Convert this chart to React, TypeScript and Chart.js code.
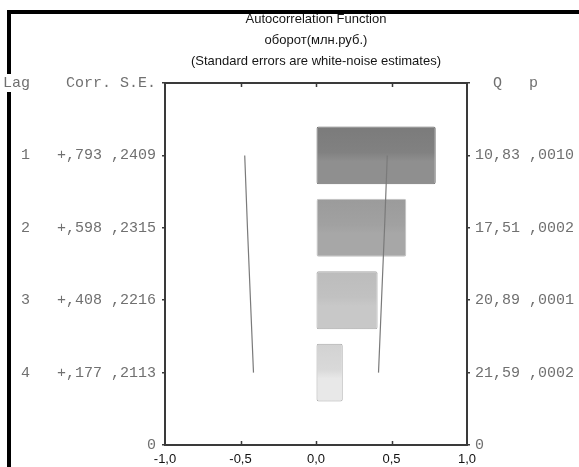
import React, { useEffect, useRef } from 'react';
import { Chart, registerables } from 'chart.js';

Chart.register(...registerables);

// ---- data ----
const lags = [1, 2, 3, 4];
const corr = [0.793, 0.598, 0.408, 0.177];
const stdErr = [0.2409, 0.2315, 0.2216, 0.2113];
const qStat = [10.83, 17.51, 20.89, 21.59];
const pValue = [0.001, 0.0002, 0.0001, 0.0002];
const confLimit = [0.472, 0.454, 0.434, 0.414];

const titleText = 'Autocorrelation Function';
const subtitleLines = ['оборот(млн.руб.)', '(Standard errors are white-noise estimates)'];
const leftHeader = 'Lag    Corr. S.E.';
const rightHeader = '  Q   p';

// ---- styles ----
const barTop = ['#7b7b7b', '#9b9b9b', '#bcbcbc', '#d2d2d2'];
const barMid = ['#818181', '#a1a1a1', '#c1c1c1', '#d9d9d9'];
const barBottom = ['#8f8f8f', '#a7a7a7', '#c8c8c8', '#e8e8e8'];
const barBorder = ['#6e6e6e', '#c2c2c2', '#a8a8a8', '#a8a8a8'];
const axisColor = '#3a3a3a';
const monoFont = "'Liberation Mono', 'DejaVu Sans Mono', monospace";
const sansFont = "'Liberation Sans', Arial, sans-serif";

const yMax = lags.length + 1;
const pos = (lag: number) => yMax - lag;

const frac = (v: number, d: number) => Math.abs(v).toFixed(d).replace(/^0/, '').replace('.', ',');
const signed = (v: number, d: number) => (v >= 0 ? '+' : '-') + frac(v, d);

const leftLabel = (value: number): string => {
  if (value === 0) return '0';
  if (value === yMax) return leftHeader;
  const i = lags.indexOf(yMax - value);
  if (i < 0) return '';
  return `${lags[i]}   ${signed(corr[i], 3)} ${frac(stdErr[i], 4)}`;
};

const rightLabel = (value: number): string => {
  if (value === 0) return '0';
  if (value === yMax) return rightHeader;
  const i = lags.indexOf(yMax - value);
  if (i < 0) return '';
  return `${qStat[i].toFixed(2).replace('.', ',')} ${frac(pValue[i], 4)}`;
};

const framePlugin = {
  id: 'acfFrame',
  afterDraw(chart: any) {
    const { ctx, chartArea: a, scales } = chart;
    ctx.save();
    ctx.strokeStyle = axisColor;
    ctx.lineWidth = 2;
    ctx.beginPath();
    ctx.moveTo(a.left - 1, a.top);
    ctx.lineTo(a.right + 1, a.top);
    ctx.stroke();
    ctx.lineWidth = 1.5;
    const ticks = scales.x.ticks;
    for (let k = 1; k < ticks.length - 1; k++) {
      const px = Math.round(scales.x.getPixelForValue(ticks[k].value)) + 0.5;
      ctx.beginPath();
      ctx.moveTo(px, a.top);
      ctx.lineTo(px, a.top + 4);
      ctx.moveTo(px, a.bottom);
      ctx.lineTo(px, a.bottom - 4);
      ctx.stroke();
    }
    ctx.restore();
  },
};

export default function App() {
  const ref = useRef<HTMLCanvasElement | null>(null);

  useEffect(() => {
    document.body.style.margin = '0';
    if (!ref.current) return;

    const barBg = (c: any) => {
      const i = c.dataIndex;
      const chart = c.chart;
      const ys = chart.scales && chart.scales.y;
      if (i === undefined || !ys) return barMid[0];
      const center = ys.getPixelForValue(pos(lags[i]));
      const half = Math.abs(ys.getPixelForValue(0) - ys.getPixelForValue(1)) * 0.4;
      if (!Number.isFinite(center) || !Number.isFinite(half) || half <= 0) return barMid[i];
      const g = chart.ctx.createLinearGradient(0, center - half, 0, center + half);
      g.addColorStop(0, barTop[i]);
      g.addColorStop(0.45, barMid[i]);
      g.addColorStop(0.6, barBottom[i]);
      g.addColorStop(1, barBottom[i]);
      return g;
    };

    const yTickFont = { family: monoFont, size: 15 };
    const yGrid = {
      drawOnChartArea: false,
      drawTicks: true,
      tickLength: 3,
      color: axisColor,
      lineWidth: 1.5,
      offset: false,
    };

    const chart = new Chart(ref.current, {
      type: 'bar',
      data: {
        datasets: [
          {
            type: 'line',
            data: lags.map((l, i) => ({ x: -confLimit[i], y: pos(l) })),
            borderColor: '#7a7a7a',
            borderWidth: 1.2,
            pointRadius: 0,
            tension: 0,
            order: 1,
          } as any,
          {
            type: 'line',
            data: lags.map((l, i) => ({ x: confLimit[i], y: pos(l) })),
            borderColor: '#7a7a7a',
            borderWidth: 1.2,
            pointRadius: 0,
            tension: 0,
            order: 1,
          } as any,
          {
            type: 'bar',
            data: lags.map((l, i) => ({ x: corr[i], y: pos(l) })),
            backgroundColor: barBg,
            borderColor: barBorder,
            borderWidth: 1,
            borderRadius: 2,
            borderSkipped: false,
            barPercentage: 0.8,
            categoryPercentage: 1,
            order: 2,
          } as any,
        ],
      },
      options: {
        animation: false,
        responsive: false,
        indexAxis: 'y',
        layout: { padding: 0 },
        plugins: {
          legend: { display: false },
          tooltip: { enabled: false },
          title: {
            display: true,
            text: titleText,
            fullSize: false,
            color: '#151515',
            font: { family: sansFont, size: 13, weight: 'normal', lineHeight: '21px' },
            padding: { top: 9, bottom: 0 },
          },
          subtitle: {
            display: true,
            text: subtitleLines,
            fullSize: false,
            color: '#151515',
            font: { family: sansFont, size: 13, weight: 'normal', lineHeight: '21px' },
            padding: { top: 0, bottom: 11 },
          },
        },
        scales: {
          x: {
            type: 'linear',
            position: 'bottom',
            min: -1,
            max: 1,
            offset: false,
            ticks: {
              stepSize: 0.5,
              color: '#111',
              font: { family: sansFont, size: 13 },
              padding: 7,
              callback: (v: any) => Number(v).toFixed(1).replace('.', ','),
            },
            grid: { display: true, drawOnChartArea: false, drawTicks: false, offset: false },
            border: { display: true, color: axisColor, width: 2 },
            afterFit: (s: any) => {
              s.height = 22;
            },
          },
          y: {
            type: 'linear',
            position: 'left',
            min: 0,
            max: yMax,
            offset: false,
            ticks: {
              stepSize: 1,
              autoSkip: false,
              color: '#707070',
              font: yTickFont,
              padding: 6,
              showLabelBackdrop: true,
              backdropColor: '#ffffff',
              backdropPadding: { x: 1, y: 0 },
              callback: (v: any) => leftLabel(Number(v)),
            },
            grid: yGrid,
            border: { display: true, color: axisColor, width: 2 },
            afterFit: (s: any) => {
              s.width = 165;
            },
          },
          y2: {
            type: 'linear',
            position: 'right',
            min: 0,
            max: yMax,
            offset: false,
            ticks: {
              stepSize: 1,
              autoSkip: false,
              color: '#707070',
              font: yTickFont,
              padding: 5,
              callback: (v: any) => rightLabel(Number(v)),
            },
            grid: yGrid,
            border: { display: true, color: axisColor, width: 2 },
            afterFit: (s: any) => {
              s.width = 112;
            },
          },
        },
      } as any,
      plugins: [framePlugin],
    });

    return () => chart.destroy();
  }, []);

  return (
    <div style={{ position: 'relative', width: 579, height: 467, background: '#fff', overflow: 'hidden' }}>
      <div
        style={{
          position: 'absolute',
          left: 7,
          top: 10,
          right: 0,
          bottom: 0,
          borderLeft: '4px solid #000',
          borderTop: '4px solid #000',
        }}
      />
      <canvas
        ref={ref}
        width={579}
        height={467}
        style={{ position: 'absolute', left: 0, top: 0, width: 579, height: 467 }}
      />
    </div>
  );
}
